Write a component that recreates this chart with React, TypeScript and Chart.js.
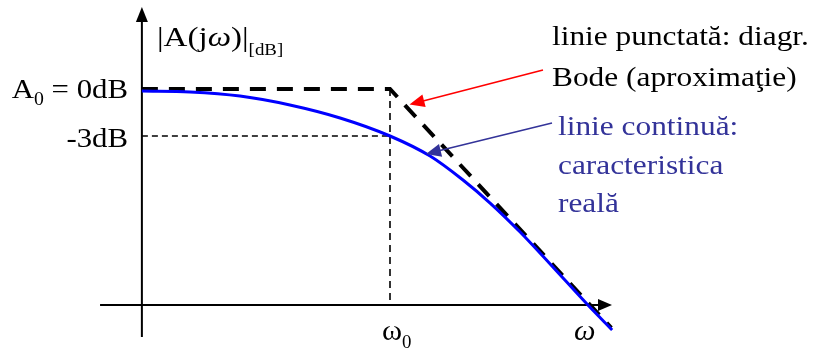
import { useEffect, useRef } from "react";
import { Chart, registerables } from "chart.js";

Chart.register(...registerables);

// Frequency axis: log10(ω / ω0); gain axis: dB
const realLogW = [-0.86, -0.693, -0.52, -0.347, -0.173, 0, 0.139, 0.253, 0.347, 0.451, 0.555, 0.686, 0.77];
const realGainDb = [-0.13, -0.19, -0.45, -1.02, -1.85, -3.0, -4.28, -5.81, -7.28, -9.13, -11.17, -13.79, -15.38];

// Bode asymptotes: flat at A0 up to the corner ω0, then falling off
const bodeLogW = [-0.86, 0, 0.767];
const bodeGainDb = [0, 0, -15.25];

const passbandDb = 0; // A0
const cutoffDb = -3;
const cornerLogW = 0; // ω0

// Text
const gainTitle = ["|A(j", "ω", ")|", "[dB]"];
const passbandLabel = ["A", "0", " = 0dB"];
const cutoffLabel = "-3dB";
const bodeNote = ["linie punctată: diagr.", "Bode (aproximaţie)"];
const realNote = ["linie continuă:", "caracteristica", "reală"];
const cornerLabel = ["ω", "0"];
const freqLabel = "ω";

// ---- drawing geometry (in axis units) ----
const X_MIN = -1.3518;
const X_MAX = 1.4662;
const Y_MIN = -16.596;
const Y_MAX = 5.681;

const Y_AXIS_AT = -0.86;
const Y_AXIS_TOP = 5.234;
const Y_AXIS_BOTTOM = -15.83;
const X_AXIS_AT = -13.79;
const X_AXIS_LEFT = -1.005;
const X_AXIS_RIGHT = 0.7695;

const SERIF = '"Liberation Serif", "Times New Roman", serif';
const STRETCH = 1.12;
const NOTE_BLUE = "#333399";

type Run = { t: string; size: number; italic?: boolean; dy?: number };

function fontOf(r: Run) {
  return `${r.italic ? "italic " : ""}${r.size}px ${SERIF}`;
}

function drawRuns(
  ctx: CanvasRenderingContext2D,
  runs: Run[],
  x: number,
  y: number,
  align: "left" | "right",
  color: string,
  sx = STRETCH
) {
  let w = 0;
  for (const r of runs) {
    ctx.font = fontOf(r);
    w += ctx.measureText(r.t).width;
  }
  const start = align === "right" ? x - w * sx : x;
  ctx.save();
  ctx.translate(start, y);
  ctx.scale(sx, 1);
  ctx.fillStyle = color;
  ctx.textBaseline = "alphabetic";
  ctx.textAlign = "left";
  let cx = 0;
  for (const r of runs) {
    ctx.font = fontOf(r);
    ctx.fillText(r.t, cx, r.dy ?? 0);
    cx += ctx.measureText(r.t).width;
  }
  ctx.restore();
}

function arrowHead(
  ctx: CanvasRenderingContext2D,
  fromX: number,
  fromY: number,
  tipX: number,
  tipY: number,
  len: number,
  half: number,
  color: string
) {
  const a = Math.atan2(tipY - fromY, tipX - fromX);
  const bx = tipX - Math.cos(a) * len;
  const by = tipY - Math.sin(a) * len;
  const nx = -Math.sin(a) * half;
  const ny = Math.cos(a) * half;
  ctx.beginPath();
  ctx.moveTo(tipX, tipY);
  ctx.lineTo(bx + nx, by + ny);
  ctx.lineTo(bx - nx, by - ny);
  ctx.closePath();
  ctx.fillStyle = color;
  ctx.fill();
}

function callout(
  ctx: CanvasRenderingContext2D,
  x0: number,
  y0: number,
  x1: number,
  y1: number,
  color: string
) {
  ctx.save();
  ctx.strokeStyle = color;
  ctx.lineWidth = 1.6;
  ctx.beginPath();
  ctx.moveTo(x0, y0);
  const a = Math.atan2(y1 - y0, x1 - x0);
  ctx.lineTo(x1 - Math.cos(a) * 8, y1 - Math.sin(a) * 8);
  ctx.stroke();
  arrowHead(ctx, x0, y0, x1, y1, 15, 6.5, color);
  ctx.restore();
}

const annotations = {
  id: "diagramAnnotations",
  afterDatasetsDraw(chart: Chart) {
    const { ctx } = chart;
    const xs = chart.scales.x;
    const ys = chart.scales.y;
    const px = (v: number) => xs.getPixelForValue(v);
    const py = (v: number) => ys.getPixelForValue(v);

    // axis arrowheads
    arrowHead(ctx, px(Y_AXIS_AT), py(Y_AXIS_BOTTOM), px(Y_AXIS_AT), py(Y_AXIS_TOP), 15, 6, "#000");
    arrowHead(ctx, px(X_AXIS_LEFT), py(X_AXIS_AT), px(X_AXIS_RIGHT), py(X_AXIS_AT), 14, 6, "#000");

    // callout arrows
    callout(ctx, px(0.5303), py(1.2128), px(0.0676), py(-0.989), "#ff0000");
    callout(ctx, px(0.5615), py(-2.17), px(0.1248), py(-4.149), NOTE_BLUE);

    // gain axis title
    drawRuns(
      ctx,
      [
        { t: gainTitle[0], size: 28 },
        { t: gainTitle[1], size: 28, italic: true },
        { t: gainTitle[2], size: 28 },
        { t: gainTitle[3], size: 16, dy: 9 },
      ],
      px(-0.8076),
      py(2.745),
      "left",
      "#000",
      1.18
    );

    // level labels
    drawRuns(
      ctx,
      [
        { t: passbandLabel[0], size: 28 },
        { t: passbandLabel[1], size: 18, dy: 7 },
        { t: passbandLabel[2], size: 28 },
      ],
      px(-0.9081),
      py(passbandDb) + 9,
      "right",
      "#000",
      1.1
    );
    drawRuns(ctx, [{ t: cutoffLabel, size: 28 }], px(-0.9081), py(cutoffDb) + 11, "right", "#000", 1.1);

    // frequency labels
    drawRuns(
      ctx,
      [
        { t: cornerLabel[0], size: 29 },
        { t: cornerLabel[1], size: 18, dy: 8 },
      ],
      px(cornerLogW - 0.0277),
      py(-16.02),
      "left",
      "#000",
      1.05
    );
    drawRuns(ctx, [{ t: freqLabel, size: 29, italic: true }], px(0.6378), py(-16.02), "left", "#000", 1.05);

    // notes
    drawRuns(ctx, [{ t: bodeNote[0], size: 28 }], px(0.5615), py(2.808), "left", "#000");
    drawRuns(ctx, [{ t: bodeNote[1], size: 28 }], px(0.5615), py(0.1915), "left", "#000");
    drawRuns(ctx, [{ t: realNote[0], size: 28 }], px(0.5823), py(-2.936), "left", NOTE_BLUE);
    drawRuns(ctx, [{ t: realNote[1], size: 28 }], px(0.5823), py(-5.425), "left", NOTE_BLUE);
    drawRuns(ctx, [{ t: realNote[2], size: 28 }], px(0.5823), py(-7.851), "left", NOTE_BLUE);
  },
};

export default function App() {
  const canvasRef = useRef<HTMLCanvasElement>(null);

  useEffect(() => {
    const canvas = canvasRef.current;
    if (!canvas) return;

    const pts = (xs: number[], ys: number[]) => xs.map((x, i) => ({ x, y: ys[i] }));

    const chart = new Chart(canvas, {
      type: "scatter",
      data: {
        datasets: [
          {
            label: "caracteristica reală",
            data: pts(realLogW, realGainDb),
            showLine: true,
            borderColor: "#0000ff",
            borderWidth: 3,
            pointRadius: 0,
            cubicInterpolationMode: "monotone",
            order: 0,
          },
          {
            label: "diagrama Bode",
            data: pts(bodeLogW, bodeGainDb),
            showLine: true,
            borderColor: "#000",
            borderWidth: 4,
            borderDash: [16, 11],
            borderCapStyle: "butt",
            pointRadius: 0,
            tension: 0,
            order: 1,
          },
          {
            label: "-3dB",
            data: [
              { x: Y_AXIS_AT, y: cutoffDb },
              { x: cornerLogW, y: cutoffDb },
            ],
            showLine: true,
            borderColor: "#000",
            borderWidth: 1.6,
            borderDash: [6, 4],
            pointRadius: 0,
            order: 2,
          },
          {
            label: "ω0",
            data: [
              { x: cornerLogW, y: passbandDb },
              { x: cornerLogW, y: X_AXIS_AT },
            ],
            showLine: true,
            borderColor: "#000",
            borderWidth: 1.6,
            borderDash: [7, 5],
            pointRadius: 0,
            order: 2,
          },
          {
            label: "gain axis",
            data: [
              { x: Y_AXIS_AT, y: Y_AXIS_BOTTOM },
              { x: Y_AXIS_AT, y: Y_AXIS_TOP - 0.5 },
            ],
            showLine: true,
            borderColor: "#000",
            borderWidth: 2,
            pointRadius: 0,
            order: 3,
          },
          {
            label: "frequency axis",
            data: [
              { x: X_AXIS_LEFT, y: X_AXIS_AT },
              { x: X_AXIS_RIGHT - 0.03, y: X_AXIS_AT },
            ],
            showLine: true,
            borderColor: "#000",
            borderWidth: 2,
            pointRadius: 0,
            order: 3,
          },
        ],
      },
      options: {
        animation: false,
        responsive: true,
        maintainAspectRatio: false,
        layout: { padding: 0 },
        events: [],
        plugins: {
          legend: { display: false },
          tooltip: { enabled: false },
        },
        scales: {
          x: { type: "linear", min: X_MIN, max: X_MAX, display: false },
          y: { type: "linear", min: Y_MIN, max: Y_MAX, display: false },
        },
      },
      plugins: [annotations],
    });

    return () => chart.destroy();
  }, []);

  return (
    <div
      style={{
        position: "fixed",
        left: 0,
        top: 0,
        width: 813,
        height: 349,
        background: "#fff",
      }}
    >
      <canvas ref={canvasRef} />
    </div>
  );
}
